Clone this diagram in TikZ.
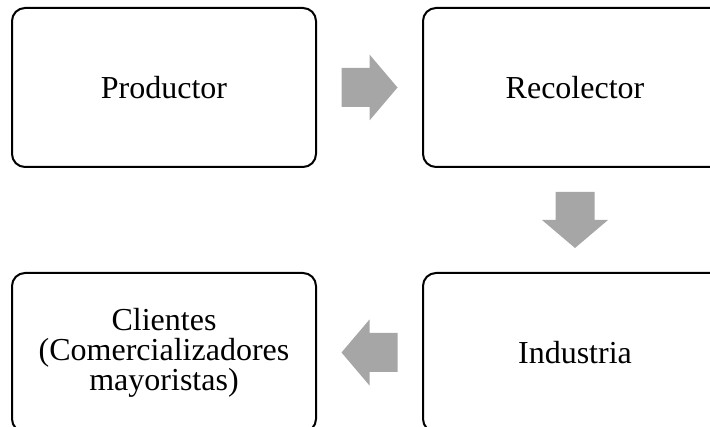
\documentclass[tikz,border=0pt]{standalone}
\usepackage{fontspec}
\setmainfont{Liberation Serif}
\usetikzlibrary{positioning, calc}

\definecolor{arrowgray}{RGB}{166,166,166}

\tikzset{
    stage/.style = {
        draw = black,
        line width = 2pt,
        rounded corners = 13pt,
        minimum width = 304pt,
        minimum height = 159pt,
        align = center,
        font = \fontsize{32}{30}\selectfont
    },
    blockarrow/.pic = {
        \fill[arrowgray] (-28,-19.5) -- (0,-19.5) -- (0,-33) -- (28,0)
            -- (0,33) -- (0,19.5) -- (-28,19.5) -- cycle;
    }
}

\begin{document}
\begin{tikzpicture}[x=1pt, y=-1pt]
    \useasboundingbox (0,0) rectangle (710,427);
    \clip (0,0) rectangle (710,427);
    \begin{scope}[node distance=104pt and 105pt, every node/.style=stage]
      \node (prod) at (164,87.5) {Productor};
      \node (reco) [right=of prod] {Recolector};
      \node (ind) [below=of reco] {Industria};
      \node (cli) [left=of ind] {Clientes\\(Comercializadores\\mayoristas)};
    \end{scope}
    % flechas entre etapas
    \pic at ($(prod.east)!0.5!(reco.west)$) {blockarrow};
    \pic[rotate=-90] at ($(reco.south)!0.5!(ind.north)$) {blockarrow};
    \pic[rotate=180] at ($(ind.west)!0.5!(cli.east)$) {blockarrow};
\end{tikzpicture}
\end{document}
